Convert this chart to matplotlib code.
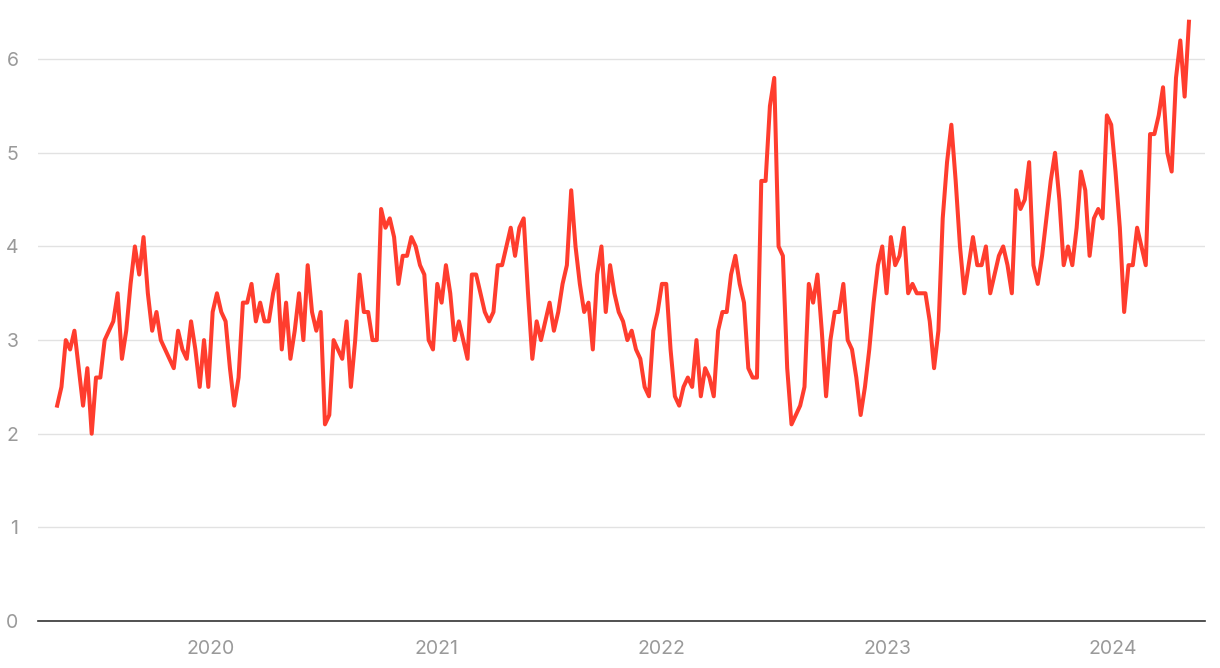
import numpy as np
import pandas as pd
import matplotlib
matplotlib.use("Agg")
from matplotlib import pyplot as plt
import matplotlib.dates as mdates

# weekly readings, starting late April 2019
start_date = "2019-04-27"
values = [
    2.3, 2.5, 3.0, 2.9, 3.1, 2.7, 2.3, 2.7, 2.0, 2.6,
    2.6, 3.0, 3.1, 3.2, 3.5, 2.8, 3.1, 3.6, 4.0, 3.7,
    4.1, 3.5, 3.1, 3.3, 3.0, 2.9, 2.8, 2.7, 3.1, 2.9,
    2.8, 3.2, 2.9, 2.5, 3.0, 2.5, 3.3, 3.5, 3.3, 3.2,
    2.7, 2.3, 2.6, 3.4, 3.4, 3.6, 3.2, 3.4, 3.2, 3.2,
    3.5, 3.7, 2.9, 3.4, 2.8, 3.1, 3.5, 3.0, 3.8, 3.3,
    3.1, 3.3, 2.1, 2.2, 3.0, 2.9, 2.8, 3.2, 2.5, 3.0,
    3.7, 3.3, 3.3, 3.0, 3.0, 4.4, 4.2, 4.3, 4.1, 3.6,
    3.9, 3.9, 4.1, 4.0, 3.8, 3.7, 3.0, 2.9, 3.6, 3.4,
    3.8, 3.5, 3.0, 3.2, 3.0, 2.8, 3.7, 3.7, 3.5, 3.3,
    3.2, 3.3, 3.8, 3.8, 4.0, 4.2, 3.9, 4.2, 4.3, 3.5,
    2.8, 3.2, 3.0, 3.2, 3.4, 3.1, 3.3, 3.6, 3.8, 4.6,
    4.0, 3.6, 3.3, 3.4, 2.9, 3.7, 4.0, 3.3, 3.8, 3.5,
    3.3, 3.2, 3.0, 3.1, 2.9, 2.8, 2.5, 2.4, 3.1, 3.3,
    3.6, 3.6, 2.9, 2.4, 2.3, 2.5, 2.6, 2.5, 3.0, 2.4,
    2.7, 2.6, 2.4, 3.1, 3.3, 3.3, 3.7, 3.9, 3.6, 3.4,
    2.7, 2.6, 2.6, 4.7, 4.7, 5.5, 5.8, 4.0, 3.9, 2.7,
    2.1, 2.2, 2.3, 2.5, 3.6, 3.4, 3.7, 3.1, 2.4, 3.0,
    3.3, 3.3, 3.6, 3.0, 2.9, 2.6, 2.2, 2.5, 2.9, 3.4,
    3.8, 4.0, 3.5, 4.1, 3.8, 3.9, 4.2, 3.5, 3.6, 3.5,
    3.5, 3.5, 3.2, 2.7, 3.1, 4.3, 4.9, 5.3, 4.7, 4.0,
    3.5, 3.8, 4.1, 3.8, 3.8, 4.0, 3.5, 3.7, 3.9, 4.0,
    3.8, 3.5, 4.6, 4.4, 4.5, 4.9, 3.8, 3.6, 3.9, 4.3,
    4.7, 5.0, 4.5, 3.8, 4.0, 3.8, 4.2, 4.8, 4.6, 3.9,
    4.3, 4.4, 4.3, 5.4, 5.3, 4.8, 4.2, 3.3, 3.8, 3.8,
    4.2, 4.0, 3.8, 5.2, 5.2, 5.4, 5.7, 5.0, 4.8, 5.8,
    6.2, 5.6, 6.4,
]
dates = pd.date_range(start_date, periods=len(values), freq="7D")
y_ticks = [0, 1, 2, 3, 4, 5, 6]
x_ticks = ["2020-01-01", "2021-01-01", "2022-01-01", "2023-01-01", "2024-01-01"]

plt.rcParams["font.family"] = ["Inter", "DejaVu Sans"]

fig = plt.figure(figsize=(12.2, 6.68), dpi=100)
ax = fig.add_axes([38 / 1220, 1 - 621 / 668, (1205 - 38) / 1220, 618 / 668])

ax.plot(dates, values, color="#ff3d2e", lw=2.9, solid_joinstyle="round")

ax.set_xlim(pd.Timestamp("2019-03-27"), pd.Timestamp("2024-05-30"))
ax.set_ylim(0, 6.6)
ax.set_yticks(y_ticks)
ax.set_xticks(pd.to_datetime(x_ticks))
ax.xaxis.set_major_formatter(mdates.DateFormatter("%Y"))

ax.grid(axis="y", color="#e2e2e2", lw=1)
ax.set_axisbelow(True)
for s in ["top", "right", "left"]:
    ax.spines[s].set_visible(False)
ax.spines["bottom"].set_color("#333333")
ax.spines["bottom"].set_linewidth(1.2)
ax.tick_params(length=0, labelsize=14, colors="#9a9a9a")
ax.tick_params(axis="y", pad=14)
ax.tick_params(axis="x", pad=14)
for lbl in ax.get_yticklabels() + ax.get_xticklabels():
    lbl.set_color("#9a9a9a")

fig.savefig("out.png", dpi=100)
